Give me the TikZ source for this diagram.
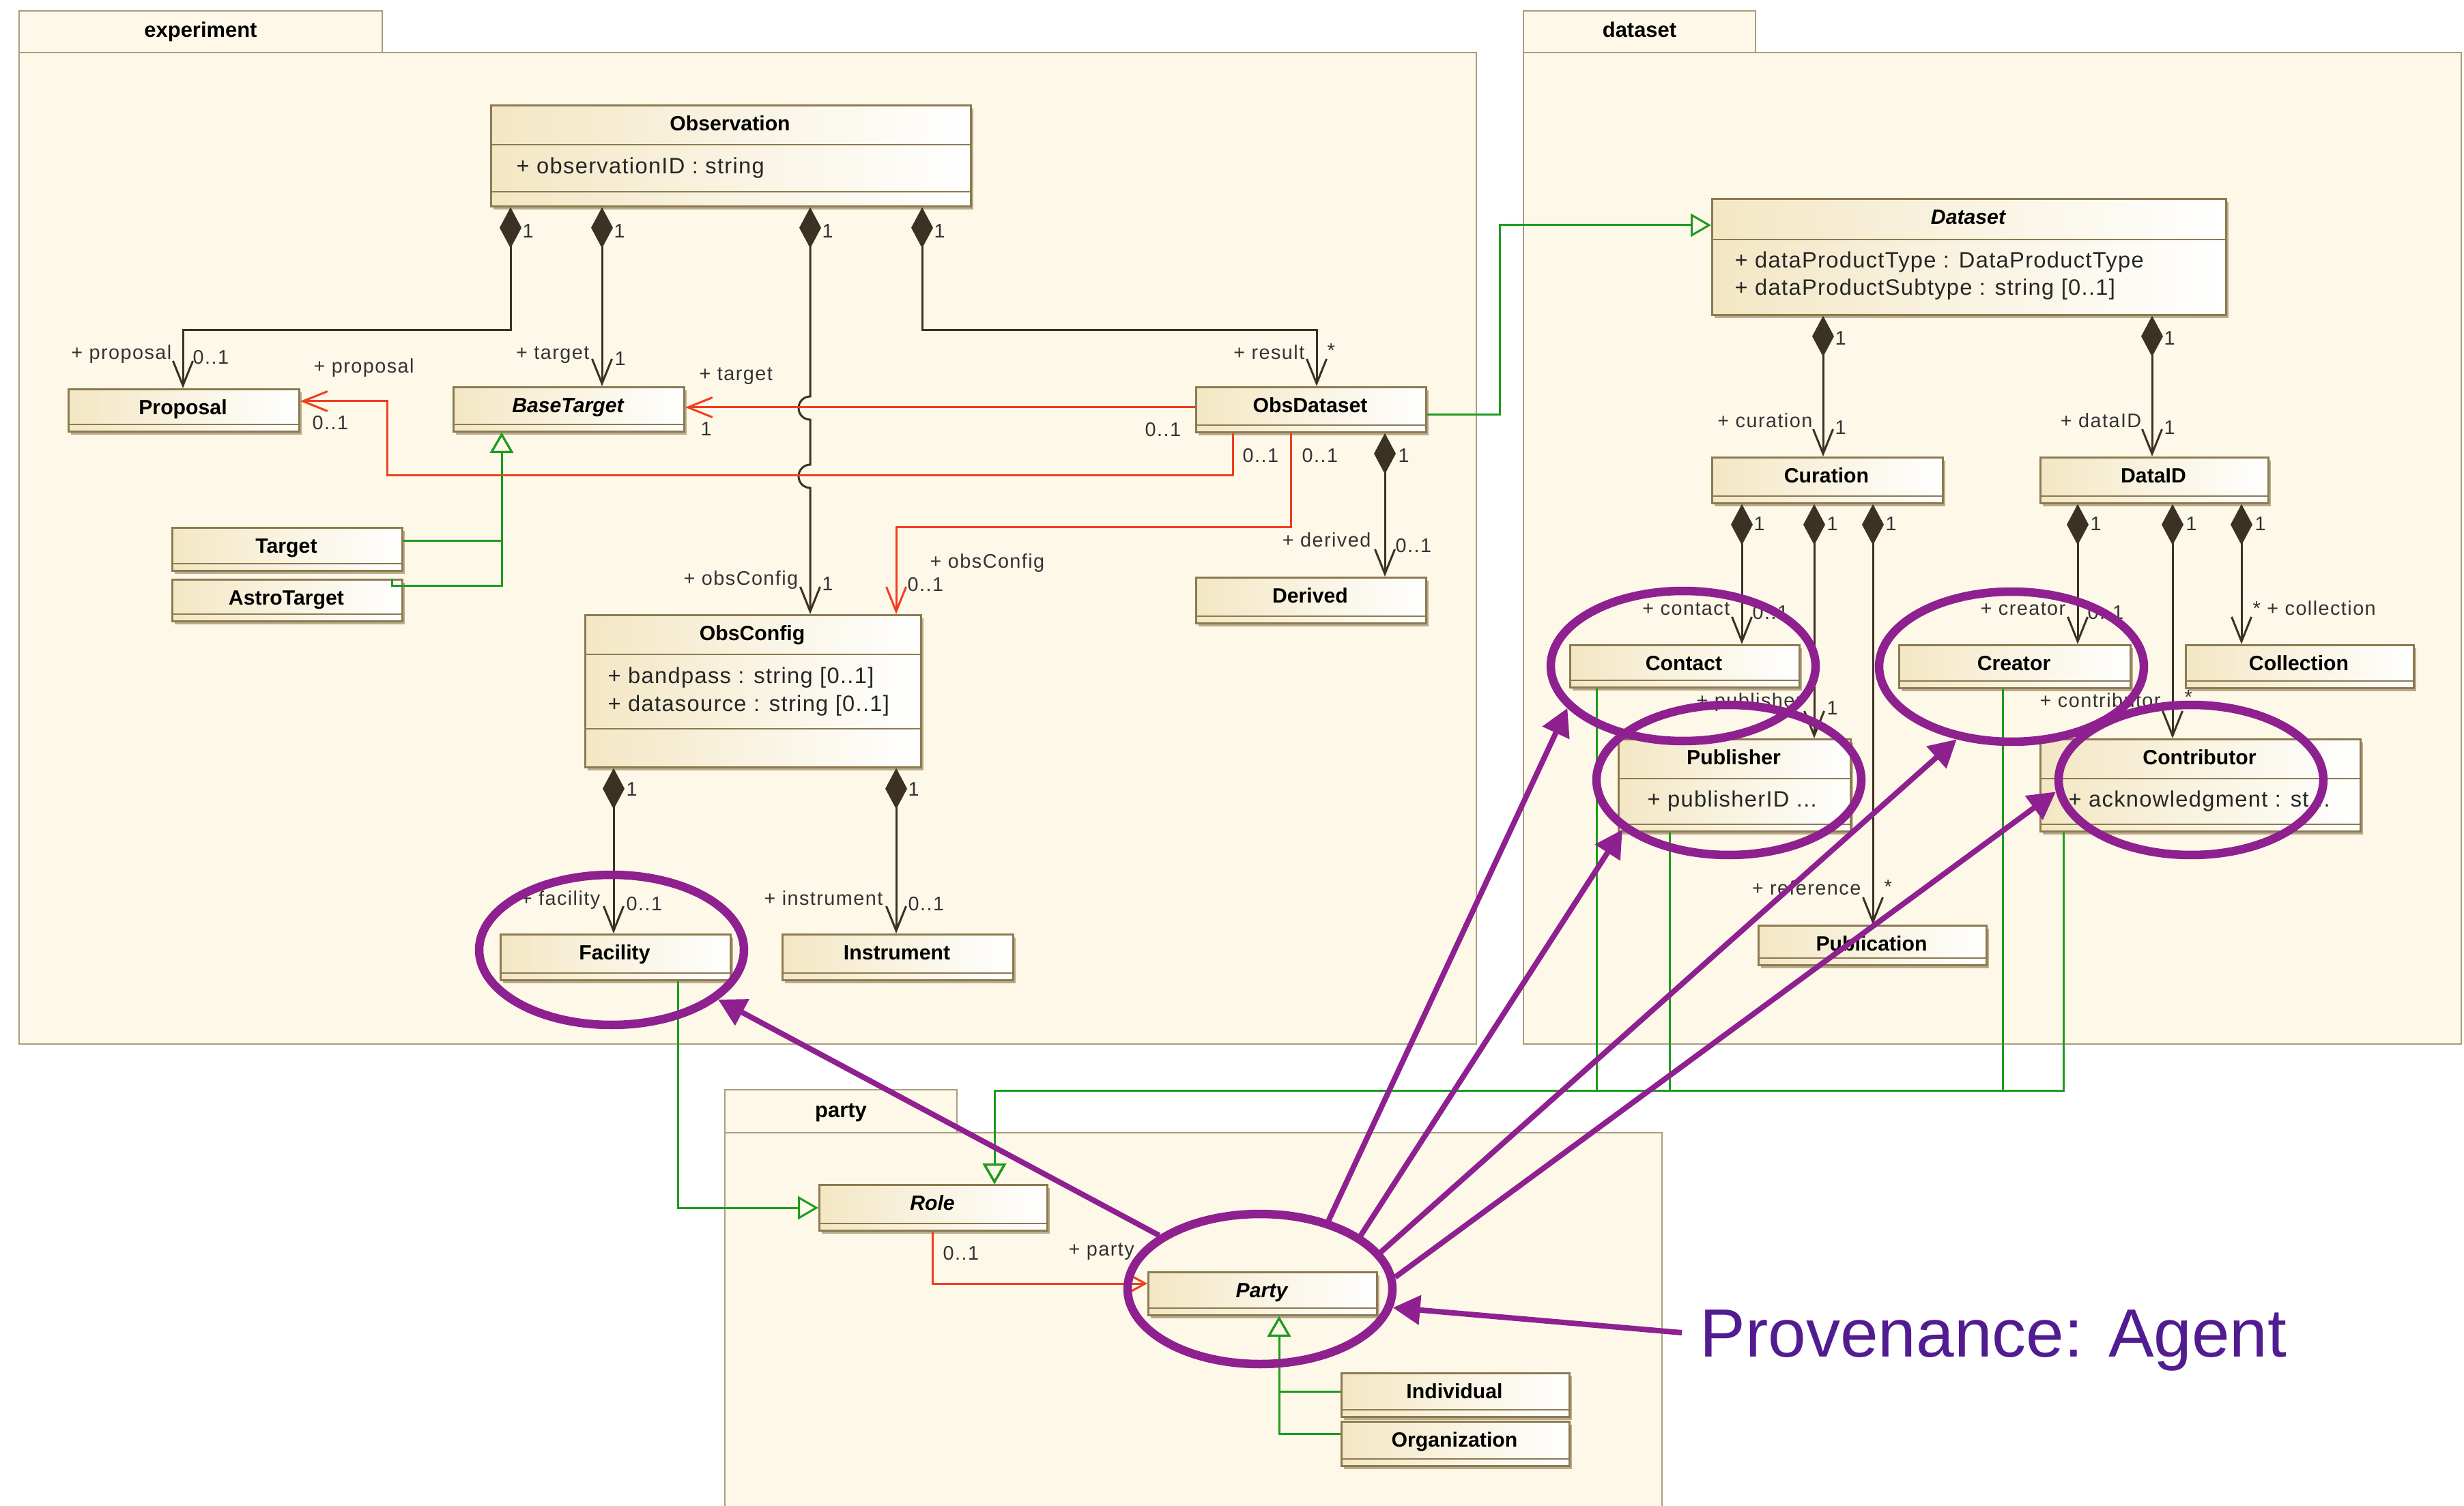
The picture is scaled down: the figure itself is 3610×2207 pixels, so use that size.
\documentclass[tikz,border=0pt]{standalone}
\usepackage{fontspec}
\setmainfont{Liberation Sans}
\newfontfamily\lblfont[LetterSpace=5]{Liberation Sans}
\newfontfamily\attrfont[LetterSpace=4]{Liberation Sans}
\usetikzlibrary{arrows.meta,shadows,shapes.geometric}

\definecolor{pkgFill}{RGB}{254,248,233}
\definecolor{pkgLine}{RGB}{168,158,128}
\definecolor{clsL}{RGB}{243,231,196}
\definecolor{clsLine}{RGB}{140,122,80}
\definecolor{shadowC}{RGB}{150,130,90}
\definecolor{ink}{RGB}{60,50,35}
\definecolor{redC}{RGB}{240,62,30}
\definecolor{greenC}{RGB}{30,155,30}
\definecolor{purp}{RGB}{142,32,144}
\definecolor{provC}{RGB}{82,28,145}

% class box: name, x1, y1, x2, y2, title
\newcommand\umlclass[6]{%
  \node[cls, minimum width={(#4-#2)*0.1mm}, minimum height={(#5-#3)*0.1mm}] (#1) at (#2,#3) {};
  \node[ctitle] (#1-t) at ({(#2+#4)/2},{#3+29}) {#6};
}
% compartment separator: x1, x2, y
\newcommand\csepline[3]{\draw[csep] (#1,#3) -- (#2,#3);}

\begin{document}
\begin{tikzpicture}[x=0.1mm, y=-0.1mm,
  pkg/.style={draw=pkgLine, fill=pkgFill, line width=0.25mm},
  pkgname/.style={font=\bfseries\fontsize{8.8pt}{10pt}\selectfont, inner sep=0pt, anchor=mid},
  cls/.style={rectangle, draw=clsLine, line width=0.28mm, left color=clsL, right color=white,
    inner sep=0pt, anchor=north west,
    drop shadow={shadow xshift=0.35mm, shadow yshift=-0.5mm, fill=shadowC, opacity=0.65}},
  ctitle/.style={font=\bfseries\fontsize{8.6pt}{10pt}\selectfont, inner sep=0pt, anchor=mid},
  csep/.style={draw=clsLine, line width=0.25mm},
  attr/.style={font=\attrfont\fontsize{9.3pt}{11pt}\selectfont, inner sep=0pt, anchor=mid west, text=black!85},
  lbl/.style={font=\lblfont\fontsize{8.2pt}{10pt}\selectfont, inner sep=0pt, anchor=mid west, text=black!80},
  lble/.style={lbl, anchor=mid east},
  comp/.style={draw=ink, line width=0.3mm,
    arrows={Diamond[length=6mm,width=3.2mm]-Straight Barb[length=3.6mm,width=2.9mm]}},
  assoc/.style={draw=redC, line width=0.3mm, arrows={-Straight Barb[length=3.6mm,width=2.9mm]}},
  gen/.style={draw=greenC, line width=0.3mm, arrows={-Triangle[open,length=3mm,width=3.4mm]}},
  pell/.style={ellipse, draw=purp, line width=1.25mm, inner sep=0pt, minimum width=38.8mm, minimum height=22mm},
  parrow/.style={draw=purp, line width=0.8mm, arrows={-Triangle[length=4mm,width=4.2mm]}}
]
\useasboundingbox (0,0) rectangle (3610,2207);
\fill[white] (0,0) rectangle (3610,2207);

% ---------------- packages
\draw[pkg] (28,16) rectangle (560,77);
\draw[pkg] (28,77) rectangle (2163,1530);
\node[pkgname] (expN) at (294,45) {experiment};
\draw[pkg] (2232,16) rectangle (2572,77);
\draw[pkg] (2232,77) rectangle (3606,1530);
\node[pkgname] (dsN) at (2402,45) {dataset};
\draw[pkg] (1062,1597) rectangle (1402,1660);
\draw[pkg] (1062,1660) rectangle (2435,2260);
\node[pkgname] (ptN) at (1232,1628) {party};

% ---------------- classes: experiment
\umlclass{obs}{718}{153}{1421}{301}{Observation}
\csepline{718}{1421}{212}\csepline{718}{1421}{281}
\umlclass{prop}{99}{569}{437}{631}{Proposal}
\umlclass{btarget}{663}{566}{1001}{631}{\itshape BaseTarget}
\umlclass{target}{251}{772}{588}{835}{Target}
\umlclass{astro}{251}{848}{588}{909}{AstroTarget}
\umlclass{oconf}{856}{900}{1348}{1123}{ObsConfig}
\csepline{856}{1348}{959}\csepline{856}{1348}{1068}
\umlclass{facility}{732}{1368}{1069}{1435}{Facility}
\umlclass{instr}{1145}{1368}{1483}{1435}{Instrument}
\umlclass{odset}{1751}{566}{2088}{632}{ObsDataset}
\umlclass{derived}{1751}{845}{2088}{912}{Derived}

% ---------------- classes: dataset
\umlclass{dataset}{2507}{290}{3260}{460}{\itshape Dataset}
\csepline{2507}{3260}{351}
\umlclass{curation}{2507}{669}{2845}{736}{Curation}
\umlclass{dataid}{2988}{669}{3322}{736}{DataID}
\umlclass{contact}{2299}{944}{2635}{1006}{Contact}
\umlclass{creator}{2781}{944}{3120}{1007}{Creator}
\umlclass{collection}{3201}{944}{3535}{1007}{Collection}
\umlclass{publisher}{2370}{1082}{2710}{1217}{Publisher}
\csepline{2370}{2710}{1141}\csepline{2370}{2710}{1208}
\umlclass{contributor}{2988}{1082}{3457}{1217}{Contributor}
\csepline{2988}{3457}{1141}\csepline{2988}{3457}{1208}
\umlclass{publication}{2575}{1355}{2909}{1413}{Publication}

% ---------------- classes: party
\umlclass{role}{1199}{1735}{1533}{1802}{\itshape Role}
\umlclass{party}{1681}{1863}{2016}{1926}{\itshape Party}
\umlclass{indiv}{1964}{2011}{2298}{2075}{Individual}
\umlclass{org}{1964}{2082}{2298}{2147}{Organization}

% empty compartments of the small classes
\foreach \a/\b/\c in {99/437/631, 663/1001/631, 251/588/835, 251/588/909, 732/1069/1435,
  1145/1483/1435, 1751/2088/632, 1751/2088/912, 2507/2845/736, 2988/3322/736,
  2299/2635/1006, 2781/3120/1007, 3201/3535/1007, 2575/2909/1413, 1199/1533/1802,
  1681/2016/1926, 1964/2298/2075, 1964/2298/2147}
  {\draw[csep] (\a,\c-9) -- (\b,\c-9);}

% ---------------- attributes
\node[attr] (obsA1) at (756,245) {+ observationID : string};
\node[attr] (ocA1) at (890,992) {+ bandpass : string [0..1]};
\node[attr] (ocA2) at (890,1033) {+ datasource : string [0..1]};
\node[attr] (dsA1) at (2541,383) {+ dataProductType : DataProductType};
\node[attr] (dsA2) at (2541,423) {+ dataProductSubtype : string [0..1]};
\node[attr] (pubA1) at (2413,1173) {+ publisherID ...};
\node[attr] (conA1) at (3030,1173) {+ acknowledgment : st...};

% ---------------- compositions
\draw[comp] (obs.south -| 748,0) |- (268,484) -- (prop.north -| 268,0);
\draw[comp] (obs.south -| 882,0) -- (btarget.north -| 882,0);
\draw[comp] (obs.south -| 1187,0) -- (1187,581)
  arc[start angle=270, end angle=90, radius=17] -- (1187,681)
  arc[start angle=270, end angle=90, radius=17] -- (oconf.north -| 1187,0);
\draw[comp] (obs.south -| 1351,0) |- (1929,484) -- (odset.north -| 1929,0);
\draw[comp] (odset.south -| 2029,0) -- (derived.north -| 2029,0);
\draw[comp] (oconf.south -| 899,0) -- (facility.north -| 899,0);
\draw[comp] (oconf.south -| 1313,0) -- (instr.north -| 1313,0);
\draw[comp] (dataset.south -| 2671,0) -- (curation.north -| 2671,0);
\draw[comp] (dataset.south -| 3153,0) -- (dataid.north -| 3153,0);
\draw[comp] (curation.south -| 2552,0) -- (contact.north -| 2552,0);
\draw[comp] (curation.south -| 2658,0) -- (publisher.north -| 2658,0);
\draw[comp] (curation.south -| 2744,0) -- (publication.north -| 2744,0);
\draw[comp] (dataid.south -| 3044,0) -- (creator.north -| 3044,0);
\draw[comp] (dataid.south -| 3183,0) -- (contributor.north -| 3183,0);
\draw[comp] (dataid.south -| 3284,0) -- (collection.north -| 3284,0);

% ---------------- directed associations
\draw[assoc] (odset.west |- 0,597) -- (btarget.east |- 0,597);
\draw[assoc] (odset.south -| 1806,0) |- (567,697) |- (prop.east |- 0,588);
\draw[assoc] (odset.south -| 1891,0) |- (1313,773) -- (oconf.north -| 1313,0);
\draw[draw=redC, line width=0.3mm, arrows={-Straight Barb[length=2mm,width=2.2mm]}]
  (role.south -| 1366,0) |- (party.west |- 0,1881);

% ---------------- generalizations
\draw[gen] (target.east |- 0,793) -| (btarget.south -| 735,0);
\draw[gen] (astro.north -| 574,0) |- (735,859) -- (btarget.south -| 735,0);
\draw[gen] (odset.east |- 0,608) -| (2197,330) -- (dataset.west |- 0,330);
\draw[gen] (facility.south -| 993,0) |- (role.west |- 0,1770);
\draw[gen] (contact.south -| 2339,0) |- (1457,1598) -- (role.north -| 1457,0);
\draw[gen] (publisher.south -| 2446,0) |- (1457,1598) -- (role.north -| 1457,0);
\draw[gen] (creator.south -| 2934,0) |- (1457,1598) -- (role.north -| 1457,0);
\draw[gen] (contributor.south -| 3023,0) |- (1457,1598) -- (role.north -| 1457,0);
\draw[gen] (indiv.west |- 0,2039) -| (party.south -| 1874,0);
\draw[gen] (org.west |- 0,2101) -| (party.south -| 1874,0);

% ---------------- role and multiplicity labels
\node[lble] (lP1) at (252,517) {+ proposal};
\node[lbl] (lP2) at (282,524) {0..1};
\node[lbl] (lP3) at (765,339) {1};
\node[lble] (lT1) at (864,517) {+ target};
\node[lbl] (lT2) at (900,526) {1};
\node[lbl] (lT3) at (899,339) {1};
\node[lbl] (lC3) at (1204,339) {1};
\node[lble] (lC1) at (1170,848) {+ obsConfig};
\node[lbl] (lC2) at (1204,856) {1};
\node[lbl] (lR3) at (1368,339) {1};
\node[lble] (lR1) at (1912,517) {+ result};
\node[lbl] (lR2) at (1944,514) {*};
\node[lbl] (lRT1) at (1024,548) {+ target};
\node[lbl] (lRT2) at (1026,629) {1};
\node[lbl] (lRT3) at (1677,630) {0..1};
\node[lbl] (lRP1) at (459,537) {+ proposal};
\node[lbl] (lRP2) at (457,620) {0..1};
\node[lbl] (lRP3) at (1820,668) {0..1};
\node[lbl] (lRC1) at (1362,823) {+ obsConfig};
\node[lbl] (lRC2) at (1329,857) {0..1};
\node[lbl] (lRC3) at (1907,668) {0..1};
\node[lbl] (lD3) at (2048,668) {1};
\node[lble] (lD1) at (2009,792) {+ derived};
\node[lbl] (lD2) at (2044,800) {0..1};
\node[lbl] (lF3) at (917,1157) {1};
\node[lble] (lF1) at (880,1317) {+ facility};
\node[lbl] (lF2) at (917,1325) {0..1};
\node[lbl] (lI3) at (1330,1157) {1};
\node[lble] (lI1) at (1294,1317) {+ instrument};
\node[lbl] (lI2) at (1330,1325) {0..1};
\node[lbl] (lCu3) at (2688,496) {1};
\node[lble] (lCu1) at (2656,617) {+ curation};
\node[lbl] (lCu2) at (2688,627) {1};
\node[lbl] (lDI3) at (3170,496) {1};
\node[lble] (lDI1) at (3138,617) {+ dataID};
\node[lbl] (lDI2) at (3170,627) {1};
\node[lbl] (lCo3) at (2569,768) {1};
\node[lble] (lCo1) at (2535,892) {+ contact};
\node[lbl] (lCo2) at (2567,898) {0..1};
\node[lbl] (lPu3) at (2676,768) {1};
\node[lbl] (lPu1) at (2485,1027) {+ publisher};
\node[lbl] (lPu2) at (2676,1038) {1};
\node[lbl] (lPn3) at (2762,768) {1};
\node[lble] (lPn1) at (2727,1302) {+ reference};
\node[lbl] (lPn2) at (2760,1300) {*};
\node[lbl] (lCr3) at (3062,768) {1};
\node[lble] (lCr1) at (3027,892) {+ creator};
\node[lbl] (lCr2) at (3058,898) {0..1};
\node[lbl] (lCb3) at (3202,768) {1};
\node[lbl] (lCb1) at (2988,1027) {+ contributor};
\node[lbl] (lCb2) at (3200,1022) {*};
\node[lbl] (lCl3) at (3303,768) {1};
\node[lbl] (lCl1) at (3300,892) {* + collection};
\node[lbl] (lRo1) at (1381,1837) {0..1};
\node[lbl] (lRo2) at (1565,1831) {+ party};

% ---------------- agent highlight
\node[pell] (facE) at (896,1392) {};
\node[pell] (contactE) at (2466,976) {};
\node[pell] (pubE) at (2533,1143) {};
\node[pell] (creatorE) at (2947,977) {};
\node[pell] (contribE) at (3210,1143) {};
\node[pell] (partyE) at (1846,1889) {};

\draw[parrow] (partyE.152) -- (facE.335);
\draw[parrow] (partyE.45) -- (contactE.200);
\draw[parrow] (partyE.28) -- (pubE.205);
\draw[parrow] (partyE.17) -- (creatorE.233);
\draw[parrow] (partyE.5) -- (contribE.185);

\node[font=\fontsize{28.45pt}{32pt}\selectfont, text=provC, anchor=base west, inner sep=0pt]
  (prov) at (2490,1988) {Provenance: Agent};
\coordinate (provStart) at (2464,1953);
\draw[parrow] (provStart) -- (partyE.352);
\end{tikzpicture}
\end{document}
